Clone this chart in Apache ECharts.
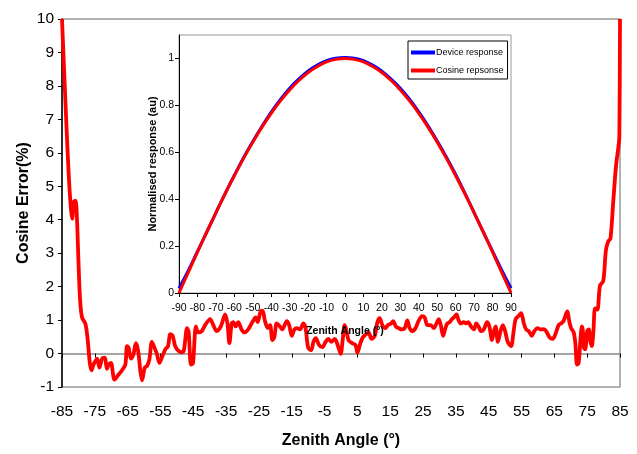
<!DOCTYPE html>
<html>
<head>
<meta charset="utf-8">
<script src="https://cdn.jsdelivr.net/npm/echarts@6/dist/echarts.min.js"></script>
<style>
html,body{margin:0;padding:0;background:#fff;}
#c{width:637px;height:454px;}
</style>
</head>
<body>
<div id="c"></div>
<script>
// Main chart: cosine error (%) vs zenith angle (deg)
var errAngles = [-85.0,-83.6,-82.9,-82.3,-81.9,-81.4,-80.9,-80.5,-80.0,-79.5,-78.9,-77.9,-77.3,-76.5,-76.0,-75.4,-74.3,-73.6,-72.8,-72.0,-71.3,-70.8,-70.1,-69.0,-67.7,-66.7,-65.7,-65.2,-64.7,-64.0,-63.2,-62.5,-61.8,-61.1,-60.6,-59.8,-59.1,-58.4,-57.6,-56.8,-56.1,-55.3,-54.5,-53.5,-52.7,-52.0,-51.3,-50.5,-49.5,-48.6,-47.9,-46.9,-46.4,-45.7,-45.1,-44.2,-43.5,-42.4,-41.4,-39.9,-38.9,-37.9,-36.6,-35.3,-34.6,-34.0,-33.3,-32.8,-32.1,-31.3,-30.3,-29.4,-28.2,-27.0,-26.0,-25.4,-24.5,-23.9,-23.2,-22.3,-21.6,-20.9,-20.3,-19.6,-18.6,-17.9,-16.5,-15.8,-15.0,-14.2,-13.5,-12.5,-11.5,-10.8,-10.0,-9.1,-8.4,-7.7,-6.7,-5.7,-4.7,-3.9,-2.9,-1.9,-0.9,-0.1,0.6,1.1,1.6,2.3,3.4,4.4,5.0,5.9,6.7,7.7,8.4,9.3,10.3,11.1,11.8,12.6,13.5,14.3,15.3,15.9,16.7,17.6,18.4,19.4,20.2,20.9,21.6,22.7,23.7,24.7,25.5,26.3,27.3,28.3,29.1,29.8,30.4,31.1,31.8,32.4,33.1,33.8,34.4,35.2,35.7,36.5,37.4,38.1,38.8,39.6,40.5,41.2,41.9,42.7,43.5,44.5,45.2,46.0,46.6,47.1,47.8,48.6,49.3,50.0,50.8,51.8,52.6,53.2,54.1,54.9,55.7,56.4,57.2,58.1,58.9,59.9,60.8,61.8,62.5,63.5,64.5,65.5,66.3,67.1,67.9,68.9,69.6,70.1,70.9,71.4,71.9,72.4,73.0,73.4,73.7,74.0,74.4,75.0,75.5,75.9,76.4,76.9,77.4,78.1,78.9,79.9,80.7,81.4,82.1,83.0,83.8,84.5,84.8,85.0];
var errValues = [10.0,6.7,5.25,4.35,4.03,4.53,4.57,4.17,2.8,1.62,1.08,0.9,0.53,-0.3,-0.5,-0.33,-0.15,-0.42,-0.15,-0.12,-0.46,-0.33,-0.28,-0.78,-0.62,-0.5,-0.33,0.22,0.17,-0.15,-0.01,0.31,0.08,-0.55,-0.8,-0.42,-0.37,-0.19,0.35,0.17,-0.01,-0.28,-0.1,0.13,0.22,0.58,0.53,0.22,0.08,0.04,0.08,0.76,0.63,-0.33,-0.3,0.81,0.63,0.67,0.85,1.03,0.85,0.67,0.81,1.17,0.90,0.31,0.90,0.94,0.81,0.94,0.72,0.63,0.73,0.94,1.08,0.94,1.26,1.28,0.99,0.76,0.85,0.40,0.49,0.90,0.81,0.72,0.97,0.85,0.53,0.72,0.76,0.72,0.90,0.76,0.17,0.10,0.35,0.46,0.26,0.19,0.35,0.44,0.35,0.44,0.22,-0.01,0.49,0.85,0.72,0.40,0.31,0.26,0.02,0.31,0.49,0.58,0.63,0.44,0.53,0.94,1.06,0.85,0.76,0.85,0.90,0.97,0.81,0.76,0.72,0.76,0.99,0.76,0.67,0.76,0.99,1.12,1.08,0.85,0.85,0.76,0.90,1.03,0.85,0.53,0.76,0.90,0.94,1.03,1.08,1.17,1.03,0.90,0.94,0.90,0.94,0.81,0.72,0.90,0.81,0.67,0.72,0.94,0.81,0.40,0.67,0.81,0.35,0.67,0.85,0.67,0.35,0.22,0.67,1.03,1.12,1.21,0.90,0.72,0.67,0.53,0.67,0.76,0.72,0.73,0.67,0.49,0.44,0.63,0.85,0.90,0.99,1.26,0.94,0.76,0.63,0.31,-0.33,-0.28,0.49,0.81,0.67,0.17,0.13,0.67,0.72,0.40,0.22,0.67,1.35,1.31,2.03,2.17,3.08,3.35,3.44,4.62,5.62,6.16,6.48,10.0];

// Inset: normalised response vs zenith angle
var insetAngles = [-90,-85,-80,-75,-70,-65,-60,-55,-50,-45,-40,-35,-30,-25,-20,-15,-10,-5,0,5,10,15,20,25,30,35,40,45,50,55,60,65,70,75,80,85,90];
var deviceResp = [0.02,0.095,0.177,0.259,0.342,0.424,0.502,0.577,0.646,0.711,0.771,0.825,0.873,0.913,0.947,0.972,0.991,1.001,1.004,1.001,0.991,0.972,0.946,0.912,0.873,0.826,0.772,0.713,0.648,0.579,0.505,0.426,0.343,0.260,0.178,0.097,0.02];
var cosineResp = [0.0,0.087,0.174,0.259,0.342,0.423,0.5,0.574,0.643,0.707,0.766,0.819,0.866,0.906,0.94,0.966,0.985,0.996,1.0,0.996,0.985,0.966,0.94,0.906,0.866,0.819,0.766,0.707,0.643,0.574,0.5,0.423,0.342,0.259,0.174,0.087,0.0];

function pairs(xs, ys){ return xs.map(function(x,i){ return [x, ys[i]]; }); }

var font = 'Liberation Sans, Arial, sans-serif';

var chart = echarts.init(document.getElementById('c'), null, {renderer:'canvas'});
chart.setOption({
  backgroundColor: '#fff',
  animation: false,
  textStyle: {fontFamily: font},
  grid: [
    {left: 62, right: 17, top: 19, bottom: 31, show: true, borderColor: '#999', borderWidth: 1.5, backgroundColor: 'transparent'},
    {left: 179, right: 126, top: 35, bottom: 161, show: true, borderColor: '#999', borderWidth: 1, backgroundColor: '#fff', z: 5}
  ],
  legend: {
    show: true,
    orient: 'vertical',
    left: 408, top: 41,
    padding: [7, 4, 4, 3],
    itemGap: 9,
    itemWidth: 24, itemHeight: 4,
    icon: 'rect',
    borderColor: '#000', borderWidth: 1,
    backgroundColor: '#fff',
    textStyle: {fontFamily: font, fontSize: 9, color: '#000', padding: [0,0,0,-4]},
    data: ['Device response', 'Cosine repsonse'],
    z: 10
  },
  xAxis: [
    {
      type: 'value', gridIndex: 0, min: -85, max: 85, interval: 10,
      name: 'Zenith Angle (°)', nameLocation: 'middle', nameGap: 46,
      nameTextStyle: {fontFamily: font, fontSize: 16, fontWeight: 'bold', color: '#000'},
      axisLine: {onZero: true, lineStyle: {color: '#888', width: 1.5}},
      axisTick: {show: true, length: 4, inside: false, lineStyle: {color: '#000'}},
      axisLabel: {fontFamily: font, fontSize: 15.5, color: '#000', margin: 17, showMinLabel: true, showMaxLabel: true},
      splitLine: {show: false}
    },
    {
      type: 'value', gridIndex: 1, min: -90, max: 90, interval: 10,
      name: 'Zenith Angle (°)', nameLocation: 'middle', nameGap: 33,
      nameTextStyle: {fontFamily: font, fontSize: 10.5, fontWeight: 'bold', color: '#000'},
      axisLine: {onZero: false, lineStyle: {color: '#000', width: 1}},
      axisTick: {show: true, length: 4, lineStyle: {color: '#000'}},
      axisLabel: {fontFamily: font, fontSize: 10.5, color: '#000', margin: 10},
      splitLine: {show: false},
      z: 6
    }
  ],
  yAxis: [
    {
      type: 'value', gridIndex: 0, min: -1, max: 10, interval: 1,
      name: 'Cosine Error(%)', nameLocation: 'middle', nameGap: 30, nameMoveOverlap: false,
      nameTextStyle: {fontFamily: font, fontSize: 16, fontWeight: 'bold', color: '#000'},
      axisLine: {show: true, onZero: false, lineStyle: {color: '#000', width: 1.5}},
      axisTick: {show: true, length: 4, lineStyle: {color: '#000'}},
      axisLabel: {fontFamily: font, fontSize: 15.5, color: '#000', margin: 8},
      splitLine: {show: false}
    },
    {
      type: 'value', gridIndex: 1, min: 0, max: 1.1, interval: 0.2,
      name: 'Normalised response (au)', nameLocation: 'middle', nameGap: 21, nameMoveOverlap: false,
      nameTextStyle: {fontFamily: font, fontSize: 11, fontWeight: 'bold', color: '#000'},
      axisLine: {show: true, onZero: false, lineStyle: {color: '#000', width: 1}},
      axisTick: {show: true, length: 4, lineStyle: {color: '#000'}},
      axisLabel: {fontFamily: font, fontSize: 10.5, color: '#000', margin: 5, showMaxLabel: false,
        formatter: function(v){ return v > 1.05 ? '' : String(Math.round(v*10)/10); }},
      splitLine: {show: false},
      z: 6
    }
  ],
  series: [
    {
      name: 'Cosine error', type: 'line', xAxisIndex: 0, yAxisIndex: 0,
      data: pairs(errAngles, errValues),
      showSymbol: false, symbol: 'none', smooth: 0.3,
      lineStyle: {color: '#ff0000', width: 3.8},
      itemStyle: {color: '#ff0000'},
      z: 2
    },
    {
      name: 'Device response', type: 'line', xAxisIndex: 1, yAxisIndex: 1,
      data: pairs(insetAngles, deviceResp),
      showSymbol: false, symbol: 'none', smooth: 0.4,
      lineStyle: {color: '#0000ff', width: 3},
      itemStyle: {color: '#0000ff'},
      z: 7
    },
    {
      name: 'Cosine repsonse', type: 'line', xAxisIndex: 1, yAxisIndex: 1,
      data: pairs(insetAngles, cosineResp),
      showSymbol: false, symbol: 'none', smooth: 0.4,
      lineStyle: {color: '#ff0000', width: 3},
      itemStyle: {color: '#ff0000'},
      z: 8
    }
  ]
});
</script>
</body>
</html>
